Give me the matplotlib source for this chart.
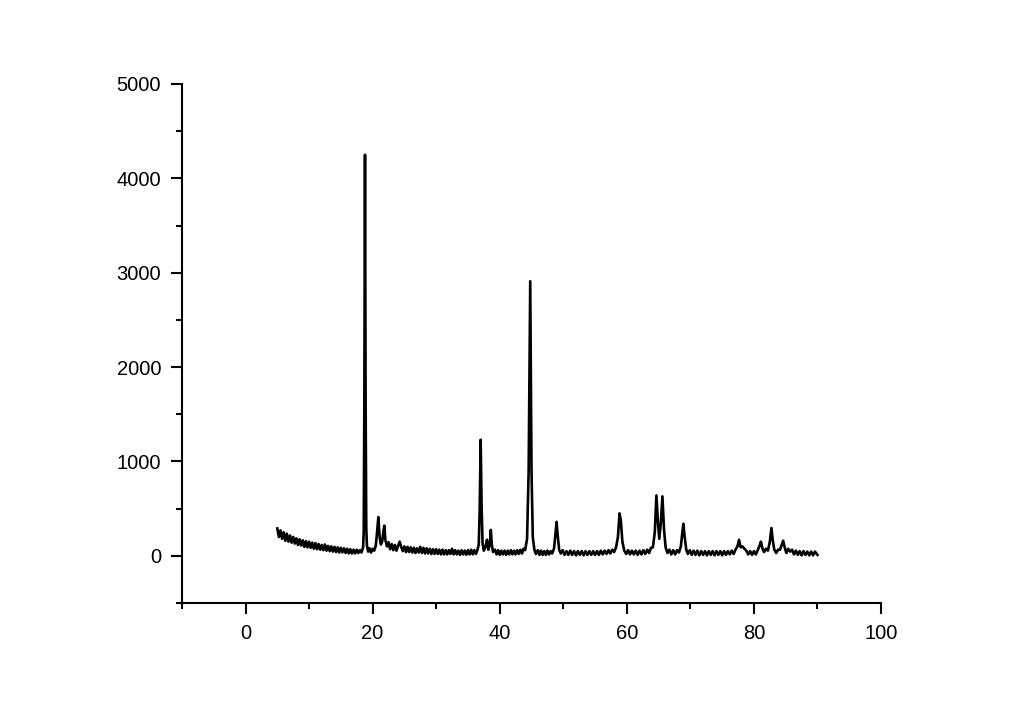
import matplotlib
matplotlib.use("Agg")
from matplotlib import pyplot as plt
from matplotlib.ticker import MultipleLocator

# 2theta (deg) and intensity
two_theta = [
    5.0, 5.25, 5.5, 5.75, 6.0, 6.25, 6.5, 6.75, 7.0, 7.25, 7.5, 7.75, 8.0, 8.25, 8.5, 8.75,
    9.0, 9.25, 9.5, 9.75, 10.0, 10.25, 10.5, 10.75, 11.0, 11.25, 11.5, 11.75, 12.0, 12.25,
    12.5, 12.75, 13.0, 13.25, 13.5, 13.75, 14.0, 14.25, 14.5, 14.75, 15.0, 15.25, 15.5,
    15.75, 16.0, 16.25, 16.5, 16.75, 17.0, 17.25, 17.5, 17.75, 18.0, 18.25, 18.5, 18.6,
    18.7, 18.8, 18.9, 19.0, 19.1, 19.3, 19.5, 19.75, 20.0, 20.25, 20.5, 20.7, 20.9, 21.1,
    21.3, 21.5, 21.7, 21.85, 22.0, 22.25, 22.5, 22.75, 23.0, 23.25, 23.5, 23.75, 24.0,
    24.25, 24.5, 24.75, 25.0, 25.25, 25.5, 25.75, 26.0, 26.25, 26.5, 26.75, 27.0, 27.25,
    27.5, 27.75, 28.0, 28.25, 28.5, 28.75, 29.0, 29.25, 29.5, 29.75, 30.0, 30.25, 30.5,
    30.75, 31.0, 31.25, 31.5, 31.75, 32.0, 32.25, 32.5, 32.75, 33.0, 33.25, 33.5, 33.75,
    34.0, 34.25, 34.5, 34.75, 35.0, 35.25, 35.5, 35.75, 36.0, 36.25, 36.5, 36.7, 36.85,
    37.0, 37.15, 37.3, 37.5, 37.75, 38.0, 38.2, 38.45, 38.6, 38.75, 38.95, 39.25, 39.5,
    39.75, 40.0, 40.25, 40.5, 40.75, 41.0, 41.25, 41.5, 41.75, 42.0, 42.25, 42.5, 42.75,
    43.0, 43.25, 43.5, 43.75, 44.0, 44.3, 44.55, 44.8, 45.0, 45.2, 45.45, 45.7, 46.0,
    46.25, 46.5, 46.75, 47.0, 47.25, 47.5, 47.75, 48.0, 48.25, 48.55, 48.8, 48.95, 49.1,
    49.35, 49.6, 49.9, 50.2, 50.5, 50.8, 51.1, 51.4, 51.7, 52.0, 52.3, 52.6, 52.9, 53.2,
    53.5, 53.8, 54.1, 54.4, 54.7, 55.0, 55.3, 55.6, 55.9, 56.2, 56.5, 56.8, 57.1, 57.4,
    57.7, 58.0, 58.3, 58.6, 58.85, 59.05, 59.3, 59.6, 59.9, 60.2, 60.5, 60.8, 61.1, 61.4,
    61.7, 62.0, 62.3, 62.6, 62.9, 63.2, 63.5, 63.8, 64.1, 64.4, 64.65, 64.9, 65.1, 65.35,
    65.6, 65.85, 66.1, 66.4, 66.7, 67.0, 67.3, 67.6, 67.9, 68.2, 68.5, 68.75, 68.9, 69.1,
    69.35, 69.6, 69.9, 70.2, 70.5, 70.8, 71.1, 71.4, 71.7, 72.0, 72.3, 72.6, 72.9, 73.2,
    73.5, 73.8, 74.1, 74.4, 74.7, 75.0, 75.3, 75.6, 75.9, 76.2, 76.5, 76.8, 77.1, 77.4,
    77.65, 77.9, 78.2, 78.5, 78.8, 79.1, 79.4, 79.7, 80.0, 80.3, 80.6, 80.9, 81.1, 81.35,
    81.6, 81.9, 82.2, 82.5, 82.75, 82.95, 83.2, 83.5, 83.8, 84.1, 84.4, 84.6, 84.85, 85.1,
    85.4, 85.7, 86.0, 86.3, 86.6, 86.9, 87.2, 87.5, 87.8, 88.1, 88.4, 88.7, 89.0, 89.3,
    89.6, 90.0,
]
intensity = [
    290, 200, 270, 180, 250, 160, 235, 150, 215, 140, 200, 130, 185, 115, 175, 110,
    165, 95, 155, 90, 150, 85, 140, 75, 135, 70, 125, 65, 115, 60,
    120, 55, 105, 50, 100, 45, 95, 40, 90, 35, 85, 35, 80,
    30, 75, 25, 70, 25, 65, 25, 65, 30, 60, 35, 90, 250,
    1700, 4250, 1600, 300, 110, 45, 80, 35, 75, 55, 110, 250, 410, 200,
    120, 150, 260, 320, 170, 100, 145, 70, 125, 60, 115, 55, 105,
    150, 95, 50, 100, 40, 95, 40, 90, 35, 85, 30, 80, 35,
    95, 30, 85, 25, 80, 25, 75, 20, 70, 20, 70, 20, 65,
    15, 65, 15, 60, 15, 60, 20, 75, 15, 60, 15, 55, 10,
    60, 15, 55, 10, 60, 15, 65, 15, 60, 20, 65, 120, 500,
    1230, 520, 130, 55, 95, 170, 65, 120, 275, 120, 40, 65, 15,
    60, 10, 55, 15, 55, 10, 55, 15, 60, 15, 55, 15, 60,
    20, 65, 25, 75, 60, 180, 900, 2910, 900, 200, 65, 20, 60,
    10, 55, 10, 50, 10, 55, 15, 50, 25, 80, 250, 360, 230,
    65, 25, 60, 10, 50, 10, 55, 10, 50, 5, 50, 10, 50, 5,
    50, 10, 50, 10, 50, 10, 50, 10, 55, 15, 55, 20, 60, 25,
    65, 40, 90, 200, 450, 380, 150, 55, 20, 60, 15, 55, 15, 55,
    10, 55, 15, 60, 20, 65, 30, 85, 90, 250, 640, 350, 180, 350,
    630, 280, 90, 30, 65, 15, 60, 15, 60, 35, 100, 260, 340, 200,
    65, 20, 60, 10, 55, 10, 55, 5, 50, 10, 50, 5, 50, 10,
    50, 5, 50, 10, 50, 5, 50, 10, 50, 15, 55, 20, 65, 100,
    170, 90, 100, 75, 55, 15, 50, 10, 50, 15, 60, 110, 150, 75,
    40, 75, 55, 150, 295, 170, 65, 30, 65, 65, 120, 160, 85, 30,
    75, 45, 65, 15, 55, 10, 50, 5, 50, 10, 45, 5, 45, 5,
    45, 10,
]

plt.rcParams["font.family"] = ["Liberation Sans", "DejaVu Sans"]

fig = plt.figure(figsize=(10.24, 7.24), dpi=100)
ax = fig.add_axes([0.1777, 0.1671, 0.6827, 0.7169])
ax.plot(two_theta, intensity, color="black", linewidth=1.9)

ax.set_xlim(-10, 100)
ax.set_ylim(-500, 5000)
ax.xaxis.set_major_locator(MultipleLocator(20))
ax.xaxis.set_minor_locator(MultipleLocator(10))
ax.yaxis.set_major_locator(MultipleLocator(1000))
ax.yaxis.set_minor_locator(MultipleLocator(500))
ax.spines["top"].set_visible(False)
ax.spines["right"].set_visible(False)
for s in ["left", "bottom"]:
    ax.spines[s].set_linewidth(1.5)
ax.tick_params(which="major", length=8, width=1.5, labelsize=14.5, direction="out", pad=7)
ax.tick_params(which="minor", length=4, width=1.5, direction="out")

fig.savefig("out.png", dpi=100)
